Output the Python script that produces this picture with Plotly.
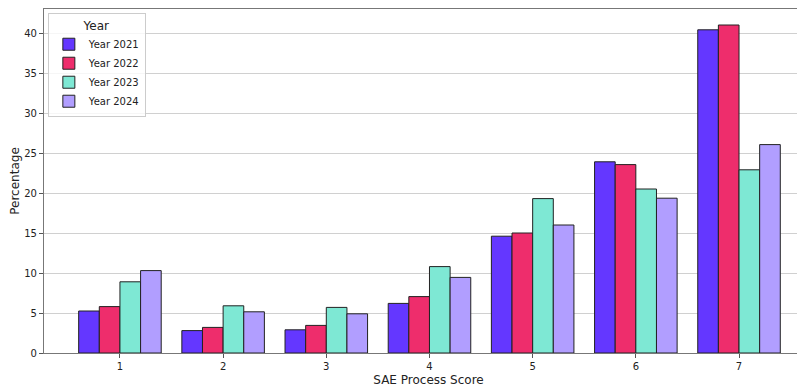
import plotly.graph_objects as go

categories = [1, 2, 3, 4, 5, 6, 7]
years = ["Year 2021", "Year 2022", "Year 2023", "Year 2024"]
values_2021 = [5.25, 2.8, 2.9, 6.2, 14.6, 23.9, 40.4]
values_2022 = [5.8, 3.2, 3.45, 7.05, 15.0, 23.55, 41.0]
values_2023 = [8.9, 5.9, 5.7, 10.8, 19.3, 20.5, 22.9]
values_2024 = [10.3, 5.15, 4.9, 9.45, 16.0, 19.35, 26.05]
colors = ["#6437ff", "#ee2d6c", "#7ee8d4", "#b19eff"]
y_ticks = [0, 5, 10, 15, 20, 25, 30, 35, 40]

series = [values_2021, values_2022, values_2023, values_2024]

fig = go.Figure()
for name, vals, col in zip(years, series, colors):
    fig.add_trace(go.Bar(
        x=categories, y=vals, name=name,
        marker=dict(color=col, line=dict(color="#222222", width=1)),
    ))

font = "DejaVu Sans, Arial, sans-serif"
fig.update_layout(
    width=805, height=387,
    margin=dict(l=36, r=0, t=1, b=42),
    paper_bgcolor="white", plot_bgcolor="white",
    barmode="group", bargap=0.2, bargroupgap=0,
    font=dict(family=font, size=10, color="#222222"),
    legend=dict(
        title=dict(text="Year", side="top center", font=dict(size=12)),
        x=0.005, y=0.988, xanchor="left", yanchor="top",
        bgcolor="rgba(255,255,255,0.8)", bordercolor="#cccccc", borderwidth=1,
        font=dict(size=10), itemwidth=30,
    ),
    xaxis=dict(
        range=[0.264, 7.717], tickmode="array", tickvals=categories,
        ticktext=[str(c) for c in categories],
        showgrid=False, showline=True, linecolor="#777777", linewidth=1.2, mirror=True,
        ticks="outside", ticklen=4, tickcolor="#555555",
        title=dict(text="SAE Process Score", font=dict(size=12), standoff=4),
    ),
    yaxis=dict(
        range=[0, 43], tickmode="array", tickvals=y_ticks,
        showgrid=True, gridcolor="#d0d0d0", gridwidth=1,
        showline=True, linecolor="#777777", linewidth=1.2, mirror=True,
        ticks="outside", ticklen=4, tickcolor="#555555", zeroline=False,
        title=dict(text="Percentage", font=dict(size=12), standoff=6),
    ),
)

fig.write_html("out.html")
